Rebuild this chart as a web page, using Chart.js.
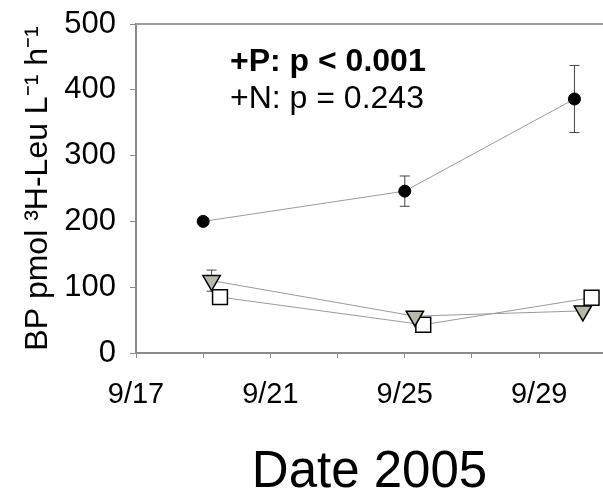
<!DOCTYPE html>
<html>
<head>
<meta charset="utf-8">
<script src="https://cdn.jsdelivr.net/npm/chart.js@4"></script>
<style>
  body { margin: 0; background: #fff; }
  #wrap { width: 603px; height: 490px; }
</style>
</head>
<body>
<div id="wrap"><canvas id="myChart_bp"></canvas></div>
<script>
// days counted from 9/17/2005
const dateTicks = [0, 2, 4, 6, 8, 10, 12];
const dateLabels = { 0: '9/17', 4: '9/21', 8: '9/25', 12: '9/29' };
const yTicks = [0, 100, 200, 300, 400, 500];

// +P (filled circles)
const pDays = [2, 8, 13.05];
const pBP = [200, 246, 386];
const pErr = [0, 23, 51];

// +N (grey triangles)
const nDays = [2.25, 8.3, 13.3];
const nBP = [110, 56, 64];
const nErr = [16, 0, 0];

// control (open squares)
const cDays = [2.5, 8.55, 13.56];
const cBP = [85, 43, 84];
const cErr = [0, 0, 0];

const FONT = "'Liberation Sans', Arial, sans-serif";
const axisGrey = '#8a8a8a';

const toXY = (xs, ys) => xs.map((x, i) => ({ x: x, y: ys[i] }));

const errorBars = {
  id: 'errorBars',
  beforeDatasetsDraw(chart) {
    const ctx = chart.ctx;
    const x = chart.scales.x, y = chart.scales.y;
    ctx.save();
    ctx.strokeStyle = '#444';
    ctx.lineWidth = 1;
    chart.data.datasets.forEach(ds => {
      ds.data.forEach((pt, i) => {
        const e = ds.err[i];
        if (!e) return;
        const px = x.getPixelForValue(pt.x);
        const top = y.getPixelForValue(pt.y + e);
        const bot = y.getPixelForValue(pt.y - e);
        ctx.beginPath();
        ctx.moveTo(px, top); ctx.lineTo(px, bot);
        ctx.moveTo(px - 5, top); ctx.lineTo(px + 5, top);
        ctx.moveTo(px - 5, bot); ctx.lineTo(px + 5, bot);
        ctx.stroke();
      });
    });
    ctx.restore();
  },
  afterDraw(chart) {
    const ctx = chart.ctx;
    const a = chart.chartArea;
    ctx.save();
    // top frame line
    ctx.strokeStyle = '#a0a0a0';
    ctx.lineWidth = 2;
    ctx.beginPath();
    ctx.moveTo(a.left, a.top);
    ctx.lineTo(a.right + 2, a.top);
    ctx.stroke();
    // statistics text
    ctx.fillStyle = '#000';
    ctx.textBaseline = 'alphabetic';
    ctx.font = 'bold 32px ' + FONT;
    ctx.fillText('+P: p < 0.001', a.left + 94, a.top + 47);
    ctx.font = '32px ' + FONT;
    ctx.fillText('+N: p = 0.243', a.left + 94, a.top + 84);
    ctx.restore();
  }
};

new Chart(document.getElementById('myChart_bp'), {
  type: 'scatter',
  data: {
    datasets: [
      {
        label: '+P',
        data: toXY(pDays, pBP),
        err: pErr,
        showLine: true,
        borderColor: '#9a9a9a',
        borderWidth: 1,
        pointStyle: 'circle',
        pointRadius: 6,
        pointBackgroundColor: '#000',
        pointBorderColor: '#000',
        pointBorderWidth: 1
      },
      {
        label: '+N',
        data: toXY(nDays, nBP),
        err: nErr,
        showLine: true,
        borderColor: '#9a9a9a',
        borderWidth: 1,
        pointStyle: 'triangle',
        pointRotation: 180,
        pointRadius: 10,
        pointBackgroundColor: '#b8b8aa',
        pointBorderColor: '#000',
        pointBorderWidth: 1.5
      },
      {
        label: 'Control',
        data: toXY(cDays, cBP),
        err: cErr,
        showLine: true,
        borderColor: '#9a9a9a',
        borderWidth: 1,
        pointStyle: 'rect',
        pointRadius: 10.5,
        pointBackgroundColor: '#fff',
        pointBorderColor: '#000',
        pointBorderWidth: 1.5
      }
    ]
  },
  options: {
    responsive: true,
    maintainAspectRatio: false,
    animation: false,
    layout: { autoPadding: false, padding: { top: 24, right: 0, bottom: 0, left: 0 } },
    plugins: {
      legend: { display: false },
      tooltip: { enabled: false }
    },
    scales: {
      x: {
        type: 'linear',
        min: 0,
        max: 13.9,
        afterBuildTicks: s => { s.ticks = dateTicks.map(v => ({ value: v })); },
        afterFit: s => { s.height = 137; s.paddingLeft = 0; s.paddingRight = 0; },
        border: { color: axisGrey, width: 2 },
        grid: { drawOnChartArea: false, drawTicks: true, tickLength: 5, color: axisGrey },
        ticks: {
          callback: v => dateLabels[v] || '',
          color: '#000',
          padding: 20,
          maxRotation: 0,
          autoSkip: false,
          font: { family: FONT, size: 29 }
        },
        title: {
          display: true,
          text: 'Date 2005',
          color: '#000',
          padding: { top: 0, bottom: -3 },
          font: { family: FONT, size: 51, lineHeight: 0.8 }
        }
      },
      y: {
        min: 0,
        max: 500,
        afterBuildTicks: s => { s.ticks = yTicks.map(v => ({ value: v })); },
        afterFit: s => { s.width = 136; s.paddingTop = 0; s.paddingBottom = 0; },
        border: { color: axisGrey, width: 2 },
        grid: { drawOnChartArea: false, drawTicks: true, tickLength: 6, color: axisGrey },
        ticks: {
          color: '#000',
          padding: 14,
          font: { family: FONT, size: 31 }
        },
        title: {
          display: true,
          text: 'BP pmol ³H-Leu L⁻¹ h⁻¹',
          color: '#000',
          padding: { top: 22, bottom: 0 },
          font: { family: FONT, size: 32, lineHeight: 1 }
        }
      }
    }
  },
  plugins: [errorBars]
});
</script>
</body>
</html>
